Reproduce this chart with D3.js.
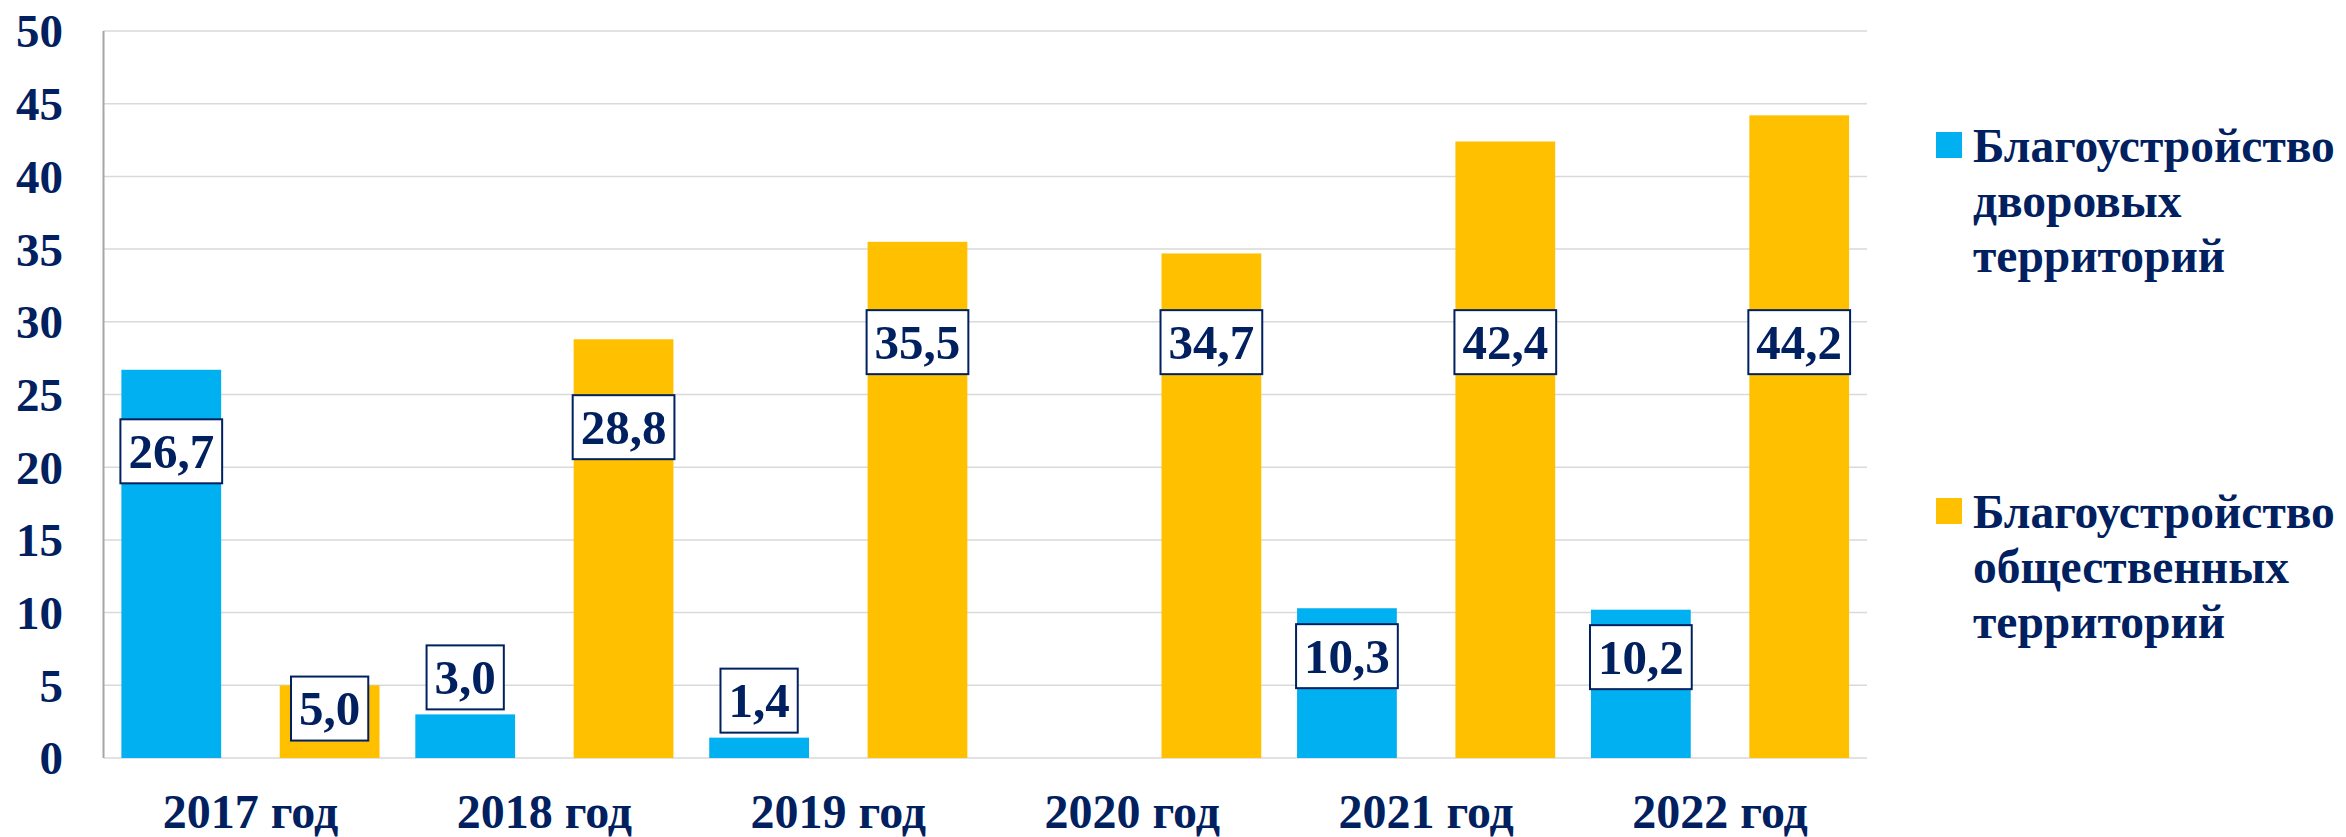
<!DOCTYPE html>
<html lang="ru">
<head>
    <meta charset="UTF-8">
    <title>Благоустройство территорий</title>
    <script src="https://d3js.org/d3.v7.min.js"></script>
    <style>
        body { margin: 0; background: #fff; }
        text {
            font-family: "Liberation Serif", "Times New Roman", serif;
            font-weight: bold;
            fill: #002060;
        }
        .grid line { stroke: #d9d9d9; stroke-width: 1.5px; }
    </style>
</head>
<body>
    <svg width="2346" height="837"></svg>
    <script>
        const years = ["2017 год", "2018 год", "2019 год", "2020 год", "2021 год", "2022 год"];
        const seriesNames = [
            ["Благоустройство", "дворовых", "территорий"],
            ["Благоустройство", "общественных", "территорий"]
        ];
        const yardValues = [26.7, 3.0, 1.4, null, 10.3, 10.2];
        const publicValues = [5.0, 28.8, 35.5, 34.7, 42.4, 44.2];
        const yTicks = [0, 5, 10, 15, 20, 25, 30, 35, 40, 45, 50];
        const colors = ["#00b0f0", "#ffc000"];

        const svg = d3.select("svg");
        const plotLeft = 103.5, plotRight = 1867, plotTop = 31, plotBottom = 758;

        const x0 = d3.scaleBand().domain(years).range([plotLeft, plotRight]);
        const x1 = d3.scaleBand().domain([0, 1])
            .range([0, x0.bandwidth()])
            .paddingInner(0.37)
            .paddingOuter(0.113);
        const y = d3.scaleLinear().domain([0, 50]).range([plotBottom, plotTop]);

        // gridlines
        svg.append("g")
            .attr("class", "grid")
            .selectAll("line")
            .data(yTicks)
            .join("line")
            .attr("x1", plotLeft).attr("x2", plotRight)
            .attr("y1", d => y(d)).attr("y2", d => y(d));

        // y tick labels
        svg.append("g")
            .selectAll("text")
            .data(yTicks)
            .join("text")
            .attr("x", 63)
            .attr("y", d => y(d))
            .attr("dy", "0.35em")
            .attr("text-anchor", "end")
            .style("font-size", "47px")
            .text(d => d);

        // bars
        const rows = [];
        years.forEach((yr, i) => {
            [yardValues[i], publicValues[i]].forEach((v, s) => {
                if (v !== null) rows.push({ year: yr, s: s, v: v });
            });
        });

        svg.append("g")
            .selectAll("rect")
            .data(rows)
            .join("rect")
            .attr("x", d => x0(d.year) + x1(d.s))
            .attr("y", d => y(d.v))
            .attr("width", x1.bandwidth())
            .attr("height", d => y(0) - y(d.v))
            .attr("fill", d => colors[d.s]);

        // left axis line
        svg.append("line")
            .attr("x1", plotLeft).attr("x2", plotLeft)
            .attr("y1", plotTop).attr("y2", plotBottom)
            .attr("stroke", "#a6a6a6")
            .attr("stroke-width", 2);

        // x labels
        svg.append("g")
            .selectAll("text")
            .data(years)
            .join("text")
            .attr("x", d => x0(d) + x0.bandwidth() / 2)
            .attr("y", 828)
            .attr("text-anchor", "middle")
            .style("font-size", "48px")
            .text(d => d);

        // data labels (boxed)
        const fmt = v => v.toFixed(1).replace(".", ",");
        function labelCenter(v) {
            if (v < 4) return y(v) - 37;
            if (v < 20) return y(v * 0.68);
            if (v < 30) return y(v * 0.79);
            return y(28.6);
        }

        const lab = svg.append("g")
            .selectAll("g")
            .data(rows)
            .join("g")
            .attr("transform", d => `translate(${x0(d.year) + x1(d.s) + x1.bandwidth() / 2},${labelCenter(d.v)})`);

        lab.append("rect")
            .attr("fill", "#fff")
            .attr("stroke", "#002060")
            .attr("stroke-width", 2);

        const txt = lab.append("text")
            .attr("text-anchor", "middle")
            .attr("dy", "0.34em")
            .style("font-size", "49px")
            .text(d => fmt(d.v));

        txt.each(function () {
            const w = this.getComputedTextLength() + 16;
            d3.select(this.parentNode).select("rect")
                .attr("x", -w / 2).attr("y", -32)
                .attr("width", w).attr("height", 64);
        });

        // legend
        const legendTop = [132, 498];
        const leg = svg.append("g")
            .selectAll("g")
            .data(seriesNames)
            .join("g")
            .attr("transform", (d, i) => `translate(1936,${legendTop[i]})`);

        leg.append("rect")
            .attr("width", 26).attr("height", 26)
            .attr("fill", (d, i) => colors[i]);

        leg.append("text")
            .style("font-size", "47.5px")
            .selectAll("tspan")
            .data(d => d)
            .join("tspan")
            .attr("x", 37)
            .attr("y", (d, i) => 30 + i * 55)
            .text(d => d);
    </script>
</body>
</html>
